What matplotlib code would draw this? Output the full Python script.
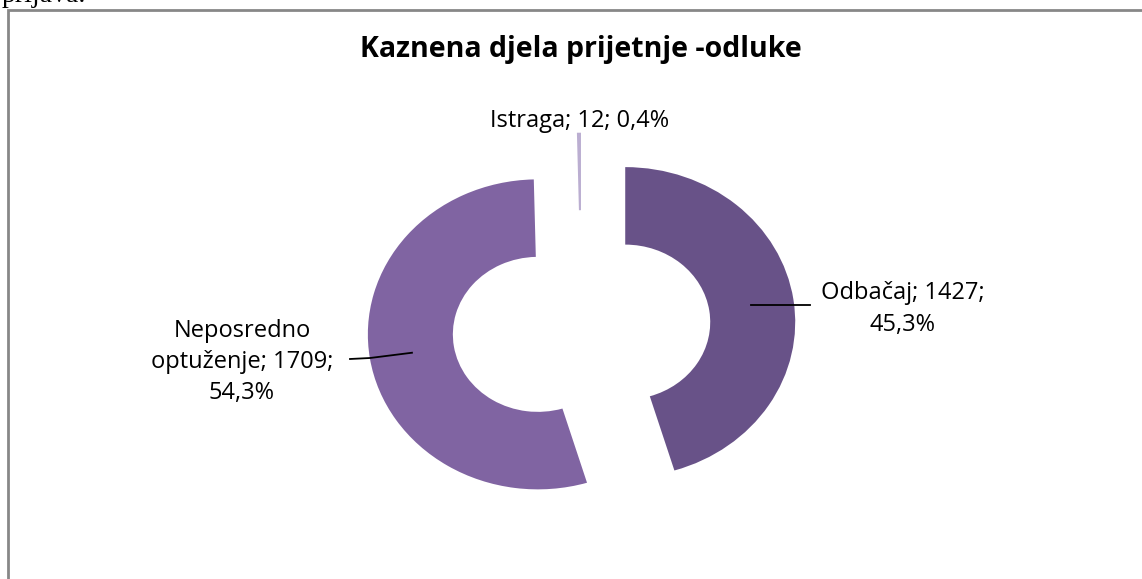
import numpy as np
import matplotlib
matplotlib.use("Agg")
import matplotlib.pyplot as plt
from matplotlib.patches import Rectangle

# podaci
kategorije = ["Odbačaj", "Neposredno\noptuženje", "Istraga"]
vrijednosti = [1427, 1709, 12]
postotci = ["45,3%", "54,3%", "0,4%"]
boje = ["#685288", "#8064A2", "#BBAED1"]

W, H = 1142, 579
fig = plt.figure(figsize=(W / 100, H / 100), dpi=100)
ax = fig.add_axes([0, 0, 1, 1])

# pikseli -> podaci (sredina krafne ~ (581.5, 328), 170 x 155 px po jedinici)
cx, cy, sx, sy = 581.5, 328.0, 170.0, 155.0
def px(x, y):
    return (x - cx) / sx, (cy - y) / sy

wedges, _ = ax.pie(vrijednosti, colors=boje, startangle=90, counterclock=False,
                   explode=[0.26, 0.26, 0.26],
                   wedgeprops=dict(width=0.5, linewidth=0))
ax.set_aspect("auto")
ax.set_xlim(px(0, 0)[0], px(W, 0)[0])
ax.set_ylim(px(0, H)[1], px(0, 0)[1])
ax.axis("off")

font = ["Open Sans", "DejaVu Sans"]

def sidro(w, r=0.75):
    a = np.deg2rad((w.theta1 + w.theta2) / 2)
    c = w.center
    return c[0] + r * np.cos(a), c[1] + r * np.sin(a)

# Odbačaj
x0, y0 = sidro(wedges[0])
x1, y1 = px(810, 0)[0], y0
ax.plot([x0, x1], [y0, y1], color="black", lw=1.3)
tx, ty = px(903, 309)
ax.text(tx, ty, f"{kategorije[0]}; {vrijednosti[0]};\n{postotci[0]}", ha="center",
        va="center", fontsize=17, family=font, linespacing=1.4)

# Neposredno optuženje
x0, y0 = sidro(wedges[1])
e1 = px(370, 358)
e2 = px(350, 359)
ax.plot([x0, e1[0], e2[0]], [y0, e1[1], e2[1]], color="black", lw=1.3)
tx, ty = px(242, 362)
ax.text(tx, ty, f"{kategorije[1]}; {vrijednosti[1]};\n{postotci[1]}", ha="center",
        va="center", fontsize=17, family=font, linespacing=1.4)

# Istraga
tx, ty = px(580, 121)
ax.text(tx, ty, f"{kategorije[2]}; {vrijednosti[2]}; {postotci[2]}", ha="center",
        va="center", fontsize=17, family=font)

fig.text(581 / W, 1 - 50 / H, "Kaznena djela prijetnje -odluke", ha="center",
         va="center", fontsize=20.5, fontweight="bold", family=font)

# okvir grafikona
fig.patches.append(Rectangle((8 / W, -0.1), 1.2, 1.1 - 10 / H, transform=fig.transFigure,
                             fill=False, edgecolor="#878787", lw=2, clip_on=False))
fig.text(2 / W, 1 - 2 / H, "prijava.", ha="left", va="baseline", fontsize=20,
         family=["Liberation Serif", "DejaVu Serif"])

fig.savefig("out.png", dpi=100, facecolor="white")
